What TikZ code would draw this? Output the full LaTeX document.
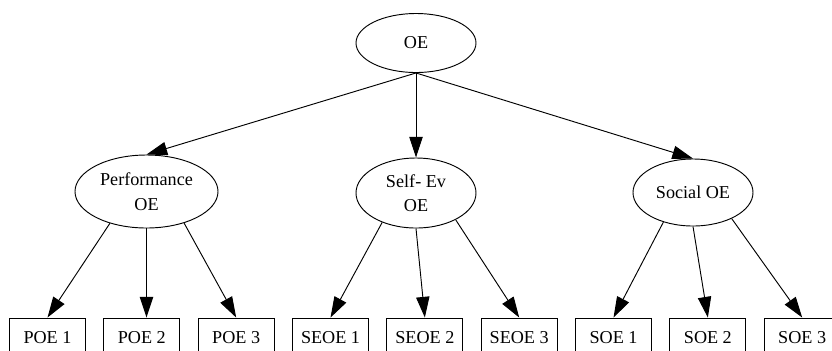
\documentclass[tikz,border=0pt]{standalone}
\usepackage{fontspec}
\setmainfont{Liberation Serif}
\usetikzlibrary{arrows.meta,shapes.geometric}

\begin{document}
\begin{tikzpicture}[x=0.03cm, y=-0.03cm, node distance=2.83cm, line width=0.8pt,
  factor/.style={ellipse, draw, inner sep=0pt, align=center, font=\fontsize{15.5}{21}\selectfont},
  item/.style={rectangle, draw, minimum width=2.28cm, minimum height=1.2cm, inner sep=0pt, font=\fontsize{15.5}{18}\selectfont},
  link/.style={-{Triangle[length=0.62cm, width=0.4cm]}}]
  \useasboundingbox (0,0) rectangle (832,350);
  \clip (0,0) rectangle (832,350);
  \node[factor, minimum width=3.6cm, minimum height=1.77cm] (OE) at (416,43) {OE};

  \node[factor, minimum width=4.29cm, minimum height=2.19cm] (POE) at (146.5,191.5) {Performance\\OE};
  \node[factor, minimum width=3.6cm, minimum height=2.1cm] (SEOE) at (416,193) {Self- Ev\\OE};
  \node[factor, minimum width=3.6cm, minimum height=2.01cm] (SOE) at (693,192.5) {Social OE};

  \node[item] (POE1) at (47.5,338) {POE 1};
  \node[item] (POE2) [right of=POE1] {POE 2};
  \node[item] (POE3) [right of=POE2] {POE 3};
  \node[item] (SEOE1) [right of=POE3] {SEOE 1};
  \node[item] (SEOE2) [right of=SEOE1] {SEOE 2};
  \node[item] (SEOE3) [right of=SEOE2] {SEOE 3};
  \node[item] (SOE1) [right of=SEOE3] {SOE 1};
  \node[item] (SOE2) [right of=SOE1] {SOE 2};
  \node[item] (SOE3) [right of=SOE2] {SOE 3};

  \draw[link] (OE.south) -- (POE.north);
  \draw[link] (OE.south) -- (SEOE.north);
  \draw[link] (OE.south) -- (SOE.north);

  \draw[link] (POE.221) -- (POE1.north);
  \draw[link] (POE.south) -- (POE.south |- POE2.north);
  \draw[link] (POE.320) -- (POE3.north);
  \draw[link] (SEOE.221) -- (SEOE1.north);
  \draw[link] (SEOE.south) -- (SEOE2.north);
  \draw[link] (SEOE.326) -- (SEOE3.north);
  \draw[link] (SOE.225) -- (SOE1.north);
  \draw[link] (SOE.south) -- (SOE2.north);
  \draw[link] (SOE.326) -- (SOE3.north);
\end{tikzpicture}
\end{document}
